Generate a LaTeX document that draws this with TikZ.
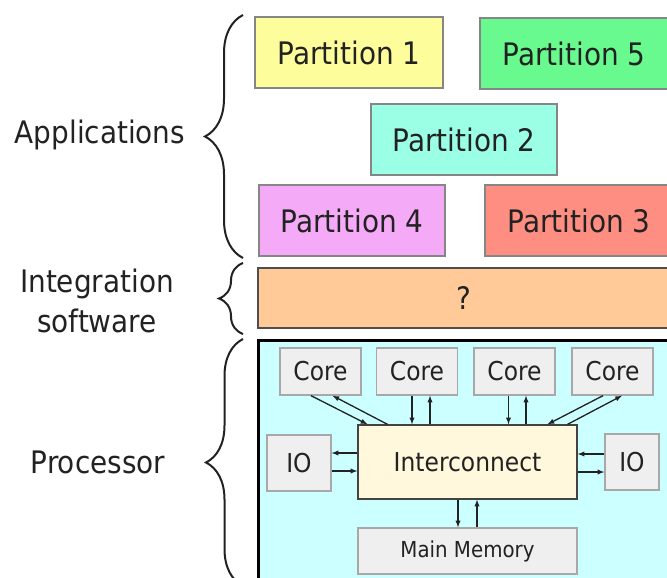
\documentclass[tikz,border=0pt]{standalone}
\usepackage{fontspec}
\setmainfont{DejaVu Sans Condensed}
\usetikzlibrary{arrows,positioning,calc,decorations.pathreplacing}
\definecolor{cPartA}{HTML}{FDFD9B}
\definecolor{cPartB}{HTML}{9BFFE6}
\definecolor{cPartC}{HTML}{FF8E82}
\definecolor{cPartD}{HTML}{F5AAF8}
\definecolor{cPartE}{HTML}{68FA8E}
\definecolor{cInteg}{HTML}{FFCA98}
\definecolor{cProc}{HTML}{CCFFFF}
\definecolor{cUnitF}{HTML}{EFEFEF}
\definecolor{cUnitD}{HTML}{A8A8A8}
\definecolor{cIconF}{HTML}{FFF8DC}
\definecolor{cTxt}{HTML}{222222}
\tikzset{
  part/.style  = {draw=cUnitD!80!black, line width=1.3pt, text=cTxt,
                  minimum width=188pt, minimum height=71pt, inner sep=0pt,
                  font=\fontsize{31}{36}\selectfont},
  unit/.style  = {draw=cUnitD, fill=cUnitF, line width=1.3pt, text=cTxt,
                  inner sep=0pt, font=\fontsize{26}{30}\selectfont},
  core/.style  = {unit, minimum width=81pt, minimum height=47pt},
  iobox/.style = {unit, minimum height=56pt},
  layer/.style = {font=\fontsize{31}{40}\selectfont, text=cTxt, align=center},
  brc/.style   = {decorate, line width=2pt, cTxt},
  bus/.style   = {line width=1.3pt, cTxt, -latex},
}
\begin{document}
\begin{tikzpicture}[x=1pt, y=-1pt]
  \useasboundingbox (0,0) rectangle (667,578);
  % applications
  \node[part, fill=cPartA] (p1) at (349,52.5) {Partition 1};
  \node[part, fill=cPartE] (p5) at (574,53.5) {Partition 5};
  \node[part, fill=cPartB, minimum width=186pt] (p2) at (464,139.5) {Partition 2};
  \node[part, fill=cPartD, minimum width=186pt] (p4) at (352,220.5) {Partition 4};
  \node[part, fill=cPartC] (p3) at (579,220.5) {Partition 3};
  % integration software
  \node[part, fill=cInteg, draw=cTxt!80, minimum width=412pt, minimum height=60pt]
    (integ) at (464,298) {?};
  % processor
  \draw[line width=3pt, fill=cProc] (258,340) rectangle (690,600);
  \node[core] (c1) at (320.5,371.5) {Core};
  \node[core] (c2) at (417,371.5) {Core};
  \node[core] (c3) at (514.5,371.5) {Core};
  \node[core] (c4) at (612.5,371.5) {Core};
  \node[unit, fill=cIconF, draw=cTxt!85, minimum width=219pt, minimum height=74pt]
    (ic) at (467.5,462) {Interconnect};
  \node[iobox, minimum width=64pt] (io1) at (299,463) {IO};
  \node[iobox, minimum width=54pt] (io2) at (632,462) {IO};
  \node[unit, minimum width=219pt, minimum height=46pt,
        font=\fontsize{22}{26}\selectfont] (mem) at (467.5,551) {Main Memory};
  % core links
  \draw[bus] ([xshift=-9.5pt]c1.south) -- ([xshift=-100pt]ic.north);
  \draw[bus] ([xshift=-80pt]ic.north) -- ([xshift=12pt]c1.south);
  \draw[bus] ([xshift=-5pt]c2.south) -- ([xshift=-5pt]c2.south |- ic.north);
  \draw[bus] ([xshift=13pt]c2.south |- ic.north) -- ([xshift=13pt]c2.south);
  \draw[bus] ([xshift=-6pt]c3.south) -- ([xshift=-6pt]c3.south |- ic.north);
  \draw[bus] ([xshift=11.5pt]c3.south |- ic.north) -- ([xshift=11.5pt]c3.south);
  \draw[bus] ([xshift=-9.5pt]c4.south) -- ([xshift=80pt]ic.north);
  \draw[bus] ([xshift=100pt]ic.north) -- ([xshift=9.5pt]c4.south);
  % io links
  \draw[bus] ([yshift=9pt]ic.west) -- ([yshift=9pt]ic.west -| io1.east);
  \draw[bus] ([yshift=-9pt]ic.west -| io1.east) -- ([yshift=-9pt]ic.west);
  \draw[bus] ([yshift=8pt]io2.west) -- ([yshift=8pt]io2.west -| ic.east);
  \draw[bus] ([yshift=-10pt]io2.west -| ic.east) -- ([yshift=-10pt]io2.west);
  % memory links
  \draw[bus] ([xshift=-9.5pt]ic.south) -- ([xshift=-9.5pt]ic.south |- mem.north);
  \draw[bus] ([xshift=9.5pt]ic.south |- mem.north) -- ([xshift=9.5pt]ic.south);
  % layer braces
  \draw[brc, decoration={brace, amplitude=38pt}] (243,258) -- (243,15);
  \draw[brc, decoration={brace, amplitude=24pt}] (243,334) -- (243,263);
  \draw[brc, decoration={brace, amplitude=37pt}] (243,586) -- (243,339);
  \node[layer] (lapp) at (100,135) {Applications};
  \node[layer] (lint) at (97,301) {Integration\\software};
  \node[layer] (lproc) at (98,462) {Processor};
\end{tikzpicture}
\end{document}
